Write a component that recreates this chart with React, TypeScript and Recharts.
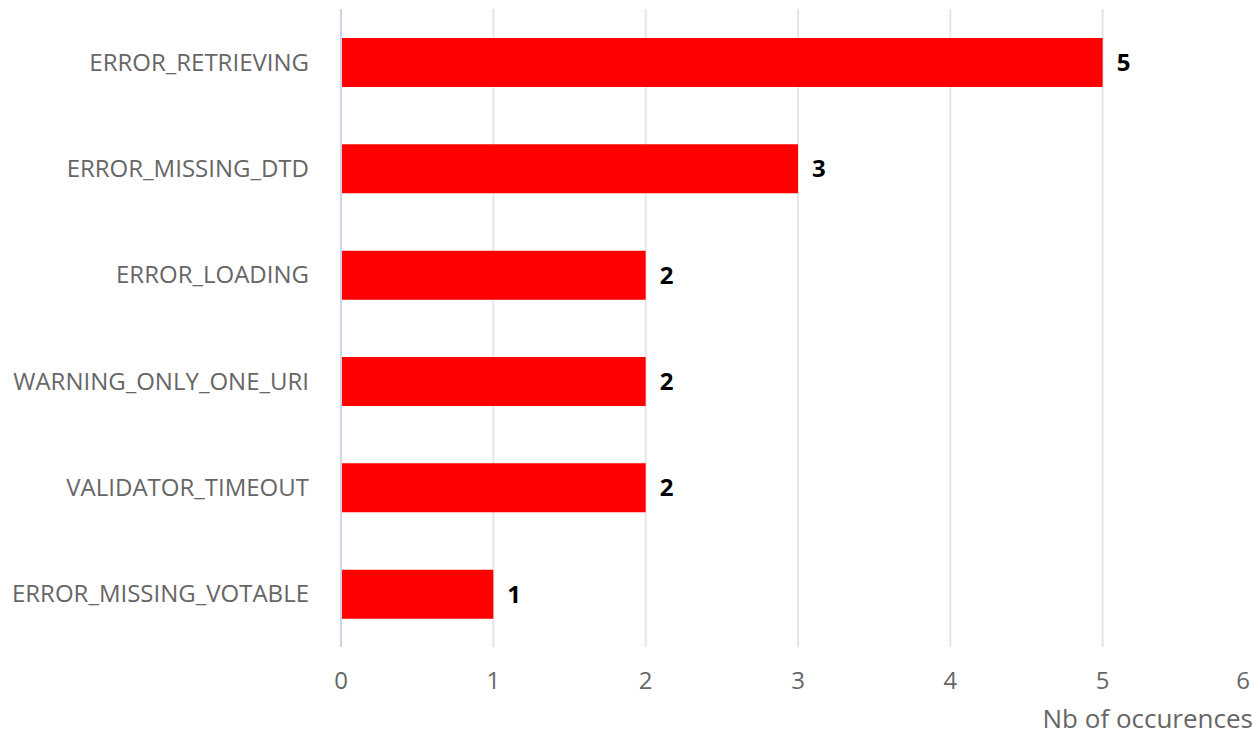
import { Bar, BarChart, CartesianGrid, LabelList, XAxis, YAxis } from "recharts";

const categories = [
  "ERROR_RETRIEVING",
  "ERROR_MISSING_DTD",
  "ERROR_LOADING",
  "WARNING_ONLY_ONE_URI",
  "VALIDATOR_TIMEOUT",
  "ERROR_MISSING_VOTABLE",
];
const occurences = [5, 3, 2, 2, 2, 1];
const xTicks = [0, 1, 2, 3, 4, 5, 6];

const data = categories.map((name, i) => ({ name, value: occurences[i] }));

const font = "'Open Sans', sans-serif";

const AxisTitle = (props: any) => {
  const { viewBox } = props;
  return (
    <text
      x={viewBox.x + viewBox.width - 2}
      y={viewBox.y + viewBox.height - 9}
      textAnchor="end"
      fill="#666666"
      fontSize={26}
      fontFamily={font}
    >
      Nb of occurences
    </text>
  );
};

// last tick label is pulled inside the chart
const XTick = (props: any) => {
  const { x, y, payload } = props;
  const isLast = payload.value === xTicks[xTicks.length - 1];
  return (
    <text
      x={isLast ? x - 8 : x}
      y={y}
      dy="0.71em"
      textAnchor="middle"
      fill="#666666"
      fontSize={24}
      fontFamily={font}
    >
      {payload.value}
    </text>
  );
};

export default function App() {
  return (
    <div
      style={{
        position: "absolute",
        left: 0,
        top: 0,
        width: 1253,
        height: 737,
        overflow: "hidden",
        background: "#fff",
      }}
    >
      <BarChart
        width={1255}
        height={737}
        data={data}
        layout="vertical"
        margin={{ top: 9, right: 0, left: 0, bottom: 0 }}
        barSize={49}
      >
        <CartesianGrid horizontal={false} stroke="#e6e6e6" strokeWidth={2} />
        <XAxis
          type="number"
          domain={[0, 6]}
          ticks={xTicks}
          height={90}
          axisLine={false}
          tickLine={false}
          tickSize={0}
          tickMargin={25}
          tick={<XTick />}
          label={<AxisTitle />}
        />
        <YAxis
          type="category"
          dataKey="name"
          width={341}
          axisLine={{ stroke: "#ccd6eb", strokeWidth: 2 }}
          tickLine={false}
          tickSize={0}
          tickMargin={32}
          tick={{ fill: "#666666", fontSize: 24, fontFamily: font }}
        />
        <Bar dataKey="value" fill="#ff0000" isAnimationActive={false}>
          <LabelList
            dataKey="value"
            position="right"
            offset={14}
            fill="#000000"
            fontSize={24}
            fontWeight="bold"
            fontFamily={font}
          />
        </Bar>
      </BarChart>
    </div>
  );
}
